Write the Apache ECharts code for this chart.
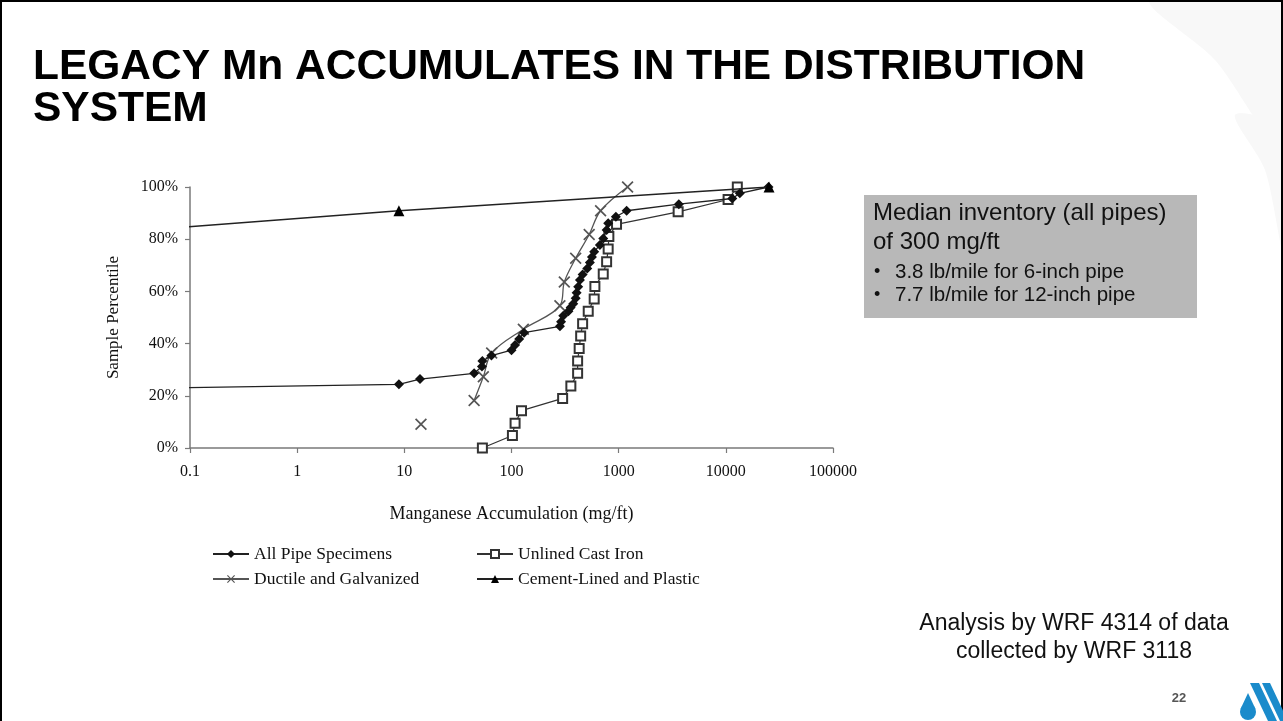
<!DOCTYPE html>
<html>
<head>
<meta charset="utf-8">
<script src="https://cdn.jsdelivr.net/npm/echarts@6/dist/echarts.min.js"></script>
<style>
html,body{margin:0;padding:0;background:#fff;}
#c{width:1283px;height:721px;}
</style>
</head>
<body>
<div id="c"></div>
<script>
// ---- data (Mn accumulation in mg/ft, sample percentile in %) ----
const xTicks = [0.1, 1, 10, 100, 1000, 10000, 100000];
const yTicks = [0, 20, 40, 60, 80, 100];

const allPipeMn  = [0.0005, 8.9, 14, 44.8, 53, 53.5, 65, 100, 108, 118, 131, 283, 290, 304, 340, 356, 377, 397, 405, 419, 435, 461, 509, 539, 563, 591, 668, 718, 772, 798, 942, 1186, 3640, 11500, 13500, 25000];
const allPipePct = [21.7, 24.4, 26.4, 28.6, 31.2, 33.3, 35.4, 37.5, 39.5, 41.8, 44.2, 46.6, 48.4, 50.7, 52.4, 53.8, 55.3, 57.4, 59.5, 61.8, 64.4, 66.5, 68.8, 71.1, 73.2, 75.2, 77.8, 80.3, 83.5, 86.1, 88.6, 90.9, 93.4, 95.6, 97.6, 100];

const castIronMn  = [53.5, 102, 108, 124, 300, 358, 414, 414, 428, 442, 461, 520, 591, 600, 718, 772, 798, 810, 955, 3590, 10500, 12800];
const castIronPct = [0, 4.8, 9.5, 14.3, 19.0, 23.8, 28.6, 33.3, 38.1, 42.9, 47.6, 52.4, 57.1, 61.9, 66.7, 71.4, 76.2, 81.0, 85.7, 90.5, 95.2, 100];

// first point is plotted unconnected ('-' breaks the line)
const ductileMn  = [14.3, '-', 44.8, 54.6, 65.3, 129, 283, 311, 397, 531, 678, 1211];
const ductilePct = [9.1, '-', 18.2, 27.3, 36.4, 45.5, 54.5, 63.6, 72.7, 81.8, 90.9, 100];

const cementMn  = [0.011, 8.9, 25300];
const cementPct = [81.8, 90.9, 100];

const seriesNames = ['All Pipe Specimens', 'Unlined Cast Iron', 'Ductile and Galvanized', 'Cement-Lined and Plastic'];

function pairs(xs, ys) {
  return xs.map((x, i) => (x === '-' ? ['-', '-'] : [x, ys[i]]));
}

const SERIF = '"Liberation Serif", "DejaVu Serif", serif';
const SANS = '"Liberation Sans", Arial, sans-serif';
const xPath = 'path://M0,1L1,0L5,4L9,0L10,1L6,5L10,9L9,10L5,6L1,10L0,9L4,5Z';

const chart = echarts.init(document.getElementById('c'), null, {renderer: 'canvas'});

const legendBase = {
  orient: 'horizontal', padding: 0, itemWidth: 36, itemHeight: 10, itemGap: 6,
  textStyle: {fontFamily: SERIF, fontSize: 17.5, color: '#111'}
};

chart.setOption({
  animation: false,
  backgroundColor: '#fff',
  grid: {left: 190, top: 187, width: 643, height: 261, containLabel: false},
  legend: [
    Object.assign({}, legendBase, {data: [seriesNames[0]], left: 212, top: 545}),
    Object.assign({}, legendBase, {data: [seriesNames[1]], left: 476, top: 545}),
    Object.assign({}, legendBase, {data: [seriesNames[2]], left: 212, top: 570}),
    Object.assign({}, legendBase, {data: [seriesNames[3]], left: 476, top: 570})
  ],
  xAxis: {
    type: 'log', logBase: 10, min: xTicks[0], max: xTicks[xTicks.length - 1],
    name: 'Manganese Accumulation (mg/ft)', nameLocation: 'middle', nameGap: 57,
    nameTextStyle: {fontFamily: SERIF, fontSize: 18, color: '#111'},
    axisLine: {lineStyle: {color: '#7a7a7a', width: 1.5}},
    axisTick: {show: true, inside: false, length: 5, lineStyle: {color: '#7a7a7a', width: 1.2}},
    minorTick: {show: false},
    splitLine: {show: false},
    axisLabel: {
      margin: 16, fontFamily: SERIF, fontSize: 16, color: '#111',
      formatter: v => (v < 1 ? String(Math.round(v * 10) / 10) : String(Math.round(v)))
    }
  },
  yAxis: {
    type: 'value', min: yTicks[0], max: yTicks[yTicks.length - 1], interval: 20,
    name: 'Sample Percentile', nameLocation: 'middle', nameGap: 68,
    nameTextStyle: {fontFamily: SERIF, fontSize: 17, color: '#111'},
    axisLine: {show: true, lineStyle: {color: '#7a7a7a', width: 1.5}},
    axisTick: {show: true, inside: false, length: 5, lineStyle: {color: '#7a7a7a', width: 1.2}},
    splitLine: {show: false},
    axisLabel: {margin: 12, fontFamily: SERIF, fontSize: 16, color: '#111', formatter: '{value}%'}
  },
  series: [
    {
      name: seriesNames[0], type: 'line', data: pairs(allPipeMn, allPipePct),
      symbol: 'diamond', symbolSize: 10, z: 4,
      itemStyle: {color: '#111'}, lineStyle: {color: '#222', width: 1.3}
    },
    {
      name: seriesNames[2], type: 'line', data: pairs(ductileMn, ductilePct),
      symbol: xPath, symbolSize: 12, smooth: 0.35, z: 3,
      itemStyle: {color: '#555'}, lineStyle: {color: '#555', width: 1.3}
    },
    {
      name: seriesNames[1], type: 'line', data: pairs(castIronMn, castIronPct),
      symbol: 'emptyRect', symbolSize: 9, z: 2,
      itemStyle: {color: '#333', borderWidth: 1}, lineStyle: {color: '#333', width: 1.2}
    },
    {
      name: seriesNames[3], type: 'line', data: pairs(cementMn, cementPct),
      symbol: 'triangle', symbolSize: 11, z: 5,
      itemStyle: {color: '#000'}, lineStyle: {color: '#222', width: 1.3}
    }
  ],
  graphic: [
    // faint watermark swooshes
    {type: 'polygon', z: -10, silent: true,
     shape: {points: [[1150, 0], [1215, 60], [1283, 150], [1283, 0]], smooth: 0.3},
     style: {fill: '#f8f8f8'}},
    {type: 'polygon', z: -10, silent: true,
     shape: {points: [[1235, 115], [1265, 170], [1283, 250], [1283, 130]], smooth: 0.3},
     style: {fill: '#f8f8f8'}},
    // slide frame
    {type: 'rect', shape: {x: 1, y: 1, width: 1281, height: 740},
     style: {fill: 'none', stroke: '#000', lineWidth: 2}},
    // title
    {type: 'text', x: 33, y: 67, style: {text: 'LEGACY Mn ACCUMULATES IN THE DISTRIBUTION',
      font: 'bold 42.5px "Liberation Sans", Arial, sans-serif', fill: '#000', verticalAlign: 'middle'}},
    {type: 'text', x: 33, y: 109, style: {text: 'SYSTEM',
      font: 'bold 42.5px "Liberation Sans", Arial, sans-serif', fill: '#000', verticalAlign: 'middle'}},
    // note box
    {type: 'rect', shape: {x: 864, y: 195, width: 333, height: 123}, style: {fill: '#b8b8b8'}},
    {type: 'text', x: 873, y: 213, style: {text: 'Median inventory (all pipes)',
      font: '24px ' + SANS, fill: '#111', verticalAlign: 'middle'}},
    {type: 'text', x: 873, y: 242, style: {text: 'of 300 mg/ft',
      font: '24px ' + SANS, fill: '#111', verticalAlign: 'middle'}},
    {type: 'text', x: 874, y: 272, style: {text: '\u2022',
      font: '18px ' + SANS, fill: '#111', verticalAlign: 'middle'}},
    {type: 'text', x: 895, y: 272, style: {text: '3.8 lb/mile for 6-inch pipe',
      font: '20.5px ' + SANS, fill: '#111', verticalAlign: 'middle'}},
    {type: 'text', x: 874, y: 295, style: {text: '\u2022',
      font: '18px ' + SANS, fill: '#111', verticalAlign: 'middle'}},
    {type: 'text', x: 895, y: 295, style: {text: '7.7 lb/mile for 12-inch pipe',
      font: '20.5px ' + SANS, fill: '#111', verticalAlign: 'middle'}},
    // source note
    {type: 'text', x: 1074, y: 624, style: {text: 'Analysis by WRF 4314 of data',
      font: '23px ' + SANS, fill: '#111', align: 'center', verticalAlign: 'middle'}},
    {type: 'text', x: 1074, y: 652, style: {text: 'collected by WRF 3118',
      font: '23px ' + SANS, fill: '#111', align: 'center', verticalAlign: 'middle'}},
    // page number
    {type: 'text', x: 1179, y: 698, style: {text: '22',
      font: 'bold 13px ' + SANS, fill: '#555', align: 'center', verticalAlign: 'middle'}},
    // logo: droplet and two stripes
    {type: 'circle', shape: {cx: 1248, cy: 712, r: 8}, style: {fill: '#1a8bcb'}},
    {type: 'polygon', shape: {points: [[1248, 693], [1255.5, 709], [1240.5, 709]]}, style: {fill: '#1a8bcb'}},
    {type: 'polygon', shape: {points: [[1250, 683], [1259, 683], [1277, 721], [1268, 721]]}, style: {fill: '#1a8bcb'}},
    {type: 'polygon', shape: {points: [[1262, 683], [1270, 683], [1288, 721], [1280, 721]]}, style: {fill: '#1a8bcb'}}
  ]
});
</script>
</body>
</html>
